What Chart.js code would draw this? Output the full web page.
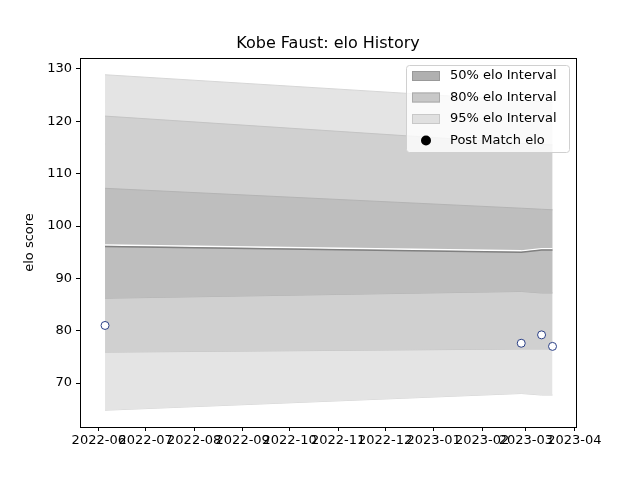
<!DOCTYPE html>
<html>
<head>
<meta charset="utf-8">
<script src="https://cdn.jsdelivr.net/npm/chart.js@4"></script>
<style>body{margin:0;background:#fff}#wrap{width:640px;height:480px}</style>
</head>
<body>
<div id="wrap"><canvas id="c" width="640" height="480"></canvas></div>
<script>
// 比赛日期与区间数据
const matchDates = ["2022-06-05", "2023-02-26", "2023-03-11", "2023-03-18"];
const postMatchElo = [81.0, 77.6, 79.2, 77.0];
const meanElo = [96.1, 95.0, 95.4, 95.4];
const upper50 = [107.2, 103.4, 103.2, 103.1];
const lower50 = [86.2, 87.5, 87.2, 87.2];
const upper80 = [121.0, 115.8, 115.6, 115.5];
const lower80 = [75.9, 76.5, 76.5, 76.5];
const upper95 = [128.9, 124.0, 123.8, 123.6];
const lower95 = [64.8, 68.0, 67.7, 67.7];
const monthTicks = ["2022-06-01","2022-07-01","2022-08-01","2022-09-01","2022-10-01","2022-11-01",
    "2022-12-01","2023-01-01","2023-02-01","2023-03-01","2023-04-01"];
const yTicks = [70, 80, 90, 100, 110, 120, 130];

const DAY = 86400000;
const toDay = (s) => Date.parse(s + "T00:00:00Z") / DAY;
const xs = matchDates.map(toDay);
const pts = (arr) => arr.map((v, i) => ({ x: xs[i], y: v }));

function band(label, up, lo, color, edge, order) {
    return [
        { label: label, data: pts(up), fill: "+1", backgroundColor: color, borderColor: edge,
          borderWidth: 1, pointRadius: 0, tension: 0, order: order },
        { label: label + "_lo", data: pts(lo), fill: false, borderColor: edge,
          borderWidth: 1, pointRadius: 0, tension: 0, order: order },
    ];
}

// 边框、标题、y轴标签与图例
const decorPlugin = {
    id: "decor",
    afterDraw(chart) {
        const ctx = chart.ctx;
        const a = chart.chartArea;
        ctx.save();
        ctx.strokeStyle = "#000";
        ctx.lineWidth = 1;
        ctx.strokeRect(Math.round(a.left) + 0.5, Math.round(a.top) + 0.5,
            Math.round(a.right - a.left), Math.round(a.bottom - a.top));
        ctx.fillStyle = "#000";
        ctx.font = "16px 'DejaVu Sans'";
        ctx.textAlign = "center";
        ctx.textBaseline = "middle";
        ctx.fillText("Kobe Faust: elo History", (a.left + a.right) / 2, 44);
        ctx.save();
        ctx.translate(30, (a.top + a.bottom) / 2);
        ctx.rotate(-Math.PI / 2);
        ctx.font = "13px 'DejaVu Sans'";
        ctx.fillText("elo score", 0, 0);
        ctx.restore();

        const items = [
            ["patch", "#b0b0b0", "#999", "50% elo Interval"],
            ["patch", "#c8c8c8", "#aaa", "80% elo Interval"],
            ["patch", "#e0e0e0", "#c8c8c8", "95% elo Interval"],
            ["dot", "#000", "#000", "Post Match elo"],
        ];
        const x0 = 406, y0 = 65, w = 163, h = 87;
        ctx.textAlign = "left";
        ctx.fillStyle = "rgba(255,255,255,0.8)";
        ctx.strokeStyle = "#d0d0d0";
        ctx.beginPath();
        ctx.roundRect(x0 + 0.5, y0 + 0.5, w, h, 3);
        ctx.fill();
        ctx.stroke();
        ctx.font = "13px 'DejaVu Sans'";
        items.forEach((it, i) => {
            const cy = y0 + 11 + i * 21.5;
            if (it[0] === "patch") {
                ctx.fillStyle = it[1];
                ctx.strokeStyle = it[2];
                ctx.fillRect(x0 + 6, cy - 5, 28, 10);
                ctx.strokeRect(x0 + 6.5, cy - 4.5, 27, 9);
            } else {
                ctx.fillStyle = it[1];
                ctx.beginPath();
                ctx.arc(x0 + 20, cy, 5, 0, Math.PI * 2);
                ctx.fill();
            }
            ctx.fillStyle = "#000";
            ctx.fillText(it[3], x0 + 44, cy);
        });
        ctx.restore();
    },
};

const tickGrid = { display: true, drawOnChartArea: false, drawTicks: true, tickLength: 4, tickColor: "#000" };

new Chart(document.getElementById("c"), {
    type: "line",
    data: {
        datasets: [
            { label: "Post Match elo", data: pts(postMatchElo), showLine: false, pointRadius: 4,
              pointBackgroundColor: "#fff", pointBorderColor: "#2a3f86", pointBorderWidth: 1, order: 0 },
            { label: "median", data: pts(meanElo.map((v) => v + 0.25)), borderColor: "#ffffff",
              borderWidth: 1.5, pointRadius: 0, fill: false, order: 2 },
            { label: "mean", data: pts(meanElo), borderColor: "#808080", borderWidth: 1.5,
              pointRadius: 0, fill: false, order: 1 },
            ...band("50%", upper50, lower50, "#bebebe", "#b4b4b4", 3),
            ...band("80%", upper80, lower80, "#d0d0d0", "#c4c4c4", 4),
            ...band("95%", upper95, lower95, "#e4e4e4", "#d6d6d6", 5),
        ],
    },
    options: {
        responsive: false,
        animation: false,
        layout: { padding: { top: 58, right: 64, bottom: 0, left: 0 } },
        plugins: {
            legend: { display: false },
            tooltip: { enabled: false },
            title: { display: false },
        },
        scales: {
            x: {
                type: "linear",
                min: toDay("2022-05-20"), max: toDay("2023-04-01") + 1,
                afterBuildTicks(axis) { axis.ticks = monthTicks.map((m) => ({ value: toDay(m) })); },
                afterFit(axis) { axis.height = 53; },
                grid: tickGrid,
                border: { color: "#000" },
                ticks: {
                    autoSkip: false, maxRotation: 0, color: "#000", padding: 2,
                    font: { family: "DejaVu Sans", size: 13 },
                    callback: (v) => new Date(v * DAY).toISOString().slice(0, 7),
                },
            },
            y: {
                min: 61.6, max: 132.1,
                afterBuildTicks(axis) { axis.ticks = yTicks.map((v) => ({ value: v })); },
                afterFit(axis) { axis.width = 80; },
                grid: tickGrid,
                border: { color: "#000" },
                ticks: { color: "#000", padding: 4, font: { family: "DejaVu Sans", size: 13 } },
            },
        },
    },
    plugins: [decorPlugin],
});
</script>
</body>
</html>
